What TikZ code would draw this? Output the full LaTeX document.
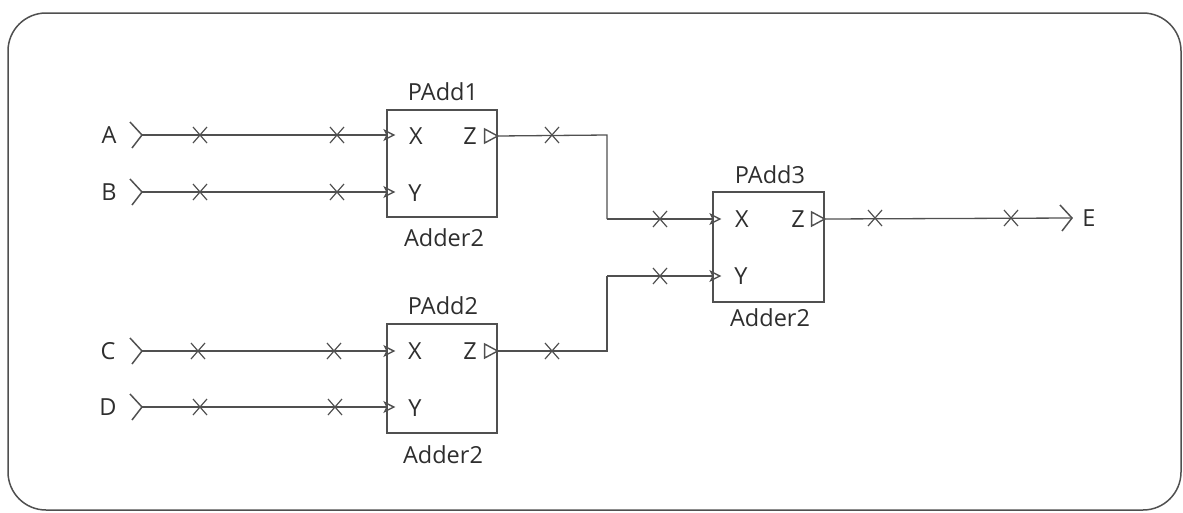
\documentclass[tikz,border=0pt]{standalone}
\usepackage{fontspec}
\setmainfont{Open Sans}
\usetikzlibrary{arrows.meta,calc}
\definecolor{wc}{HTML}{505050}
\definecolor{tc}{HTML}{2e2e2e}
\begin{document}
\begin{tikzpicture}[x=1pt,y=-1pt,
  lbl/.style={text=tc,font=\fontsize{23.5}{26}\selectfont,inner sep=0pt},
  blk/.style={draw=wc,line width=1.3pt,minimum width=110pt,minimum height=107pt,inner sep=0pt},
  wire/.style={draw=wc,line width=1.3pt},
  inarrow/.style={wire,-{Stealth[length=12pt,width=12pt,inset=3pt,open,line width=1.4pt]}},
  chevron/.pic={\draw[wc,line width=1.5pt] (-12,-13) -- (0,0) -- (-10,13);},
  xmark/.pic={\draw[wc,line width=1.2pt] (-7,-8) -- (7,8) (-7,8) -- (7,-8);},
  ztri/.pic={\draw[wc,line width=1.4pt] (-13,-7) -- (0,0) -- (-13,7) -- cycle;}
]
\useasboundingbox (0,0) rectangle (1183,512);
\draw[wc,line width=1.5pt,rounded corners=38pt] (8,13) rectangle (1181,510);

% blocks
\node[blk] (p1) at (442,163.5) {};
\node[blk,minimum height=109pt] (p2) at (442,378.5) {};
\node[blk,minimum width=111pt,minimum height=110pt] (p3) at (768.5,247) {};

% titles and types
\node[lbl] (t1) at (443,92) {PAdd1};
\node[lbl] (c1) at (444,238) {Adder2};
\node[lbl] (t2) at (443,306) {PAdd2};
\node[lbl] (c2) at (443,455) {Adder2};
\node[lbl] (t3) at (770,175) {PAdd3};
\node[lbl] (c3) at (770,318) {Adder2};

% ports
\node[lbl] (p1X) at (416,136) {X};
\node[lbl] (p1Y) at (415,193) {Y};
\node[lbl] (p1Z) at (470,136) {Z};
\node[lbl] (p2X) at (415,351) {X};
\node[lbl] (p2Y) at (415,408) {Y};
\node[lbl] (p2Z) at (470,351) {Z};
\node[lbl] (p3X) at (742,219) {X};
\node[lbl] (p3Y) at (741,276) {Y};
\node[lbl] (p3Z) at (798,219) {Z};

% external ports
\node[lbl] (A) at (109,135) {A};
\node[lbl] (B) at (109,192) {B};
\node[lbl] (C) at (108,351) {C};
\node[lbl] (D) at (108,407) {D};
\node[lbl] (E) at (1089,218) {E};

\coordinate (Ai) at (142,135);
\coordinate (Bi) at (142,192);
\coordinate (Ci) at (142,351);
\coordinate (Di) at (142,407);
\coordinate (Eo) at (1072,218);
\coordinate (j1) at (607,135);
\coordinate (j2) at (607,351);

\pic at (Ai) {chevron};
\pic at (Bi) {chevron};
\pic at (Ci) {chevron};
\pic at (Di) {chevron};
\pic at (Eo) {chevron};

% inputs into PAdd1 / PAdd2
\draw[inarrow] (Ai) -- ($(Ai -| p1.west)+(9,0)$);
\draw[inarrow] (Bi) -- ($(Bi -| p1.west)+(9,0)$);
\draw[inarrow] (Ci) -- ($(Ci -| p2.west)+(9,0)$);
\draw[inarrow] (Di) -- ($(Di -| p2.west)+(9,0)$);

% outputs
\pic at (p1Z -| p1.east) {ztri};
\pic at (p2Z -| p2.east) {ztri};
\pic at (p3Z -| p3.east) {ztri};

\draw[wire] (p1Z -| p1.east) -- (j1) -- (j1 |- p3X);
\draw[inarrow] (j1 |- p3X) -- ($(p3X -| p3.west)+(9,0)$);
\draw[wire] (p2Z -| p2.east) -- (j2) -- (j2 |- p3Y);
\draw[inarrow] (j2 |- p3Y) -- ($(p3Y -| p3.west)+(9,0)$);
\draw[wire] (p3Z -| p3.east) -- (Eo);

% cross marks
\foreach \x in {200,337} {\pic at (\x,135) {xmark}; \pic at (\x,192) {xmark};}
\pic at (198,351) {xmark}; \pic at (334,351) {xmark};
\pic at (200,407) {xmark}; \pic at (335,407) {xmark};
\pic at (552,135) {xmark};
\pic at (552,351) {xmark};
\pic at (660,219) {xmark};
\pic at (660,276) {xmark};
\pic at (875,218) {xmark};
\pic at (1011,218) {xmark};
\end{tikzpicture}
\end{document}
